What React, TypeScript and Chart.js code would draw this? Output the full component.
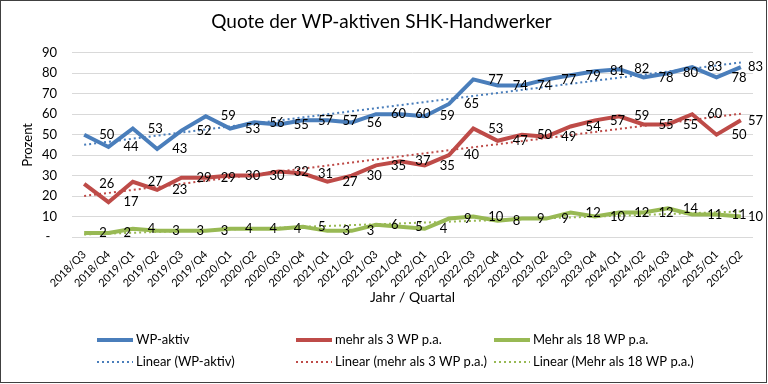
import { useEffect, useRef } from "react";
import { Chart, registerables } from "chart.js";

Chart.register(...registerables);

const chartTitle = "Quote der WP-aktiven SHK-Handwerker";
const xTitle = "Jahr / Quartal";
const yTitle = "Prozent";

const categories = [
  "2018/Q3", "2018/Q4",
  "2019/Q1", "2019/Q2", "2019/Q3", "2019/Q4",
  "2020/Q1", "2020/Q2", "2020/Q3", "2020/Q4",
  "2021/Q1", "2021/Q2", "2021/Q3", "2021/Q4",
  "2022/Q1", "2022/Q2", "2022/Q3", "2022/Q4",
  "2023/Q1", "2023/Q2", "2023/Q3", "2023/Q4",
  "2024/Q1", "2024/Q2", "2024/Q3", "2024/Q4",
  "2025/Q1", "2025/Q2",
];

const seriesNames = ["WP-aktiv", "mehr als 3 WP p.a.", "Mehr als 18 WP p.a."];

const wpAktiv = [50, 44, 53, 43, 52, 59, 53, 56, 55, 57, 57, 56, 60, 60, 59, 65, 77, 74, 74, 77, 79, 81, 82, 78, 80, 83, 78, 83];
const mehrAls3 = [26, 17, 27, 23, 29, 29, 30, 30, 32, 31, 27, 30, 35, 37, 35, 40, 53, 47, 50, 49, 54, 57, 59, 55, 55, 60, 50, 57];
const mehrAls18 = [2, 2, 4, 3, 3, 3, 4, 4, 4, 5, 3, 3, 6, 5, 4, 9, 10, 8, 9, 9, 12, 10, 12, 12, 14, 11, 11, 10];

const yTickValues = [0, 10, 20, 30, 40, 50, 60, 70, 80, 90];
const yTickLabels = ["-  ", "10", "20", "30", "40", "50", "60", "70", "80", "90"];

const colors = ["#4A7EBB", "#BE4B48", "#98B954"];

// Least-squares linear trendline (as Excel's "Linear" trendline)
function linearTrend(values: number[]): number[] {
  const n = values.length;
  let sx = 0, sy = 0, sxy = 0, sxx = 0;
  values.forEach((v, i) => {
    const x = i + 1;
    sx += x; sy += v; sxy += x * v; sxx += x * x;
  });
  const slope = (n * sxy - sx * sy) / (n * sxx - sx * sx);
  const intercept = (sy - slope * sx) / n;
  return values.map((_, i) => intercept + slope * (i + 1));
}

const FONT = "Lato, 'Open Sans', 'Liberation Sans', sans-serif";

export default function App() {
  const ref = useRef<HTMLCanvasElement | null>(null);

  useEffect(() => {
    if (!ref.current) return;
    const series = [wpAktiv, mehrAls3, mehrAls18];

    const datasets: any[] = [];
    series.forEach((s, k) => {
      datasets.push({
        label: seriesNames[k],
        data: s,
        borderColor: colors[k],
        backgroundColor: colors[k],
        borderWidth: 4,
        pointRadius: 0,
        tension: 0,
        order: 2,
      });
    });
    series.forEach((s, k) => {
      datasets.push({
        label: "Linear (" + seriesNames[k] + ")",
        data: linearTrend(s),
        borderColor: colors[k],
        backgroundColor: colors[k],
        borderWidth: 2,
        borderDash: [2, 3],
        pointRadius: 0,
        tension: 0,
        order: 1,
      });
    });

    const framePlugin = {
      id: "frame",
      beforeDraw(chart: any) {
        const c = chart.ctx;
        c.save();
        c.fillStyle = "#ffffff";
        c.fillRect(0, 0, chart.width, chart.height);
        c.restore();
      },
      afterDraw(chart: any) {
        const c = chart.ctx;
        c.save();
        c.strokeStyle = "#404040";
        c.lineWidth = 1;
        c.strokeRect(0.5, 0.5, chart.width - 2, chart.height - 2);
        c.restore();
      },
    };

    const labelPlugin = {
      id: "valueLabels",
      afterDatasetsDraw(chart: any) {
        const c = chart.ctx;
        c.save();
        c.font = "13px " + FONT;
        c.fillStyle = "#000000";
        c.textAlign = "left";
        c.textBaseline = "middle";
        for (let d = 0; d < 3; d++) {
          const meta = chart.getDatasetMeta(d);
          const data = chart.data.datasets[d].data as number[];
          meta.data.forEach((pt: any, i: number) => {
            const txt = String(data[i]);
            const w = c.measureText(txt).width;
            let x = pt.x + 15;
            if (x + w > chart.width - 5) x = chart.width - 5 - w;
            c.fillText(txt, x, pt.y);
          });
        }
        c.restore();
      },
    };

    const legendPlugin = {
      id: "customLegend",
      afterDraw(chart: any) {
        const c = chart.ctx;
        const cols = [97, 296, 494];
        const rows = [340, 362];
        c.save();
        c.font = "13px " + FONT;
        c.textBaseline = "middle";
        c.textAlign = "left";
        chart.data.datasets.forEach((ds: any, i: number) => {
          const col = i % 3;
          const row = Math.floor(i / 3);
          const x = cols[col];
          const y = rows[row];
          c.beginPath();
          c.strokeStyle = ds.borderColor;
          c.lineWidth = ds.borderWidth;
          c.setLineDash(ds.borderDash || []);
          c.moveTo(x, y);
          c.lineTo(x + 36, y);
          c.stroke();
          c.setLineDash([]);
          c.fillStyle = "#000000";
          c.fillText(ds.label, x + 39, y);
        });
        c.restore();
      },
    };

    const chart = new Chart(ref.current, {
      type: "line",
      data: { labels: categories, datasets },
      options: {
        animation: false,
        responsive: false,
        devicePixelRatio: 1,
        layout: { padding: { left: 10, right: 15, top: 0, bottom: 70 } },
        plugins: {
          legend: { display: false },
          tooltip: { enabled: false },
          title: {
            display: true,
            text: chartTitle,
            color: "#000000",
            font: { family: FONT, size: 19, weight: "normal" },
            padding: { top: 10, bottom: 20 },
          },
        },
        scales: {
          x: {
            type: "category",
            offset: true,
            grid: { display: false, drawTicks: false },
            border: { display: false },
            ticks: {
              autoSkip: false,
              maxRotation: 45,
              minRotation: 45,
              padding: 11,
              color: "#000000",
              font: { family: FONT, size: 11 },
            },
            title: {
              display: true,
              text: xTitle,
              color: "#000000",
              font: { family: FONT, size: 14 },
              padding: { top: 0, bottom: 8 },
            },
            afterFit(scale: any) {
              scale.height = 77;
            },
          },
          y: {
            min: 0,
            max: 90,
            afterBuildTicks(scale: any) {
              scale.ticks = yTickValues.map((v) => ({ value: v }));
            },
            grid: { color: "#D9D9D9", lineWidth: 1, drawTicks: false },
            border: { display: false },
            ticks: {
              padding: 15,
              color: "#000000",
              font: { family: FONT, size: 13 },
              callback: (v: any) => {
                const idx = yTickValues.indexOf(Number(v));
                return idx >= 0 ? yTickLabels[idx] : "";
              },
            },
            title: {
              display: true,
              text: yTitle,
              color: "#000000",
              font: { family: FONT, size: 13 },
              padding: { top: 10, bottom: 0 },
            },
            afterFit(scale: any) {
              scale.width = 62;
            },
          },
        },
      },
      plugins: [framePlugin, labelPlugin, legendPlugin],
    });

    return () => chart.destroy();
  }, []);

  return (
    <div style={{ position: "absolute", left: 0, top: 0, width: 768, height: 384, background: "#fff" }}>
      <canvas ref={ref} width={768} height={384} style={{ display: "block" }} />
    </div>
  );
}
